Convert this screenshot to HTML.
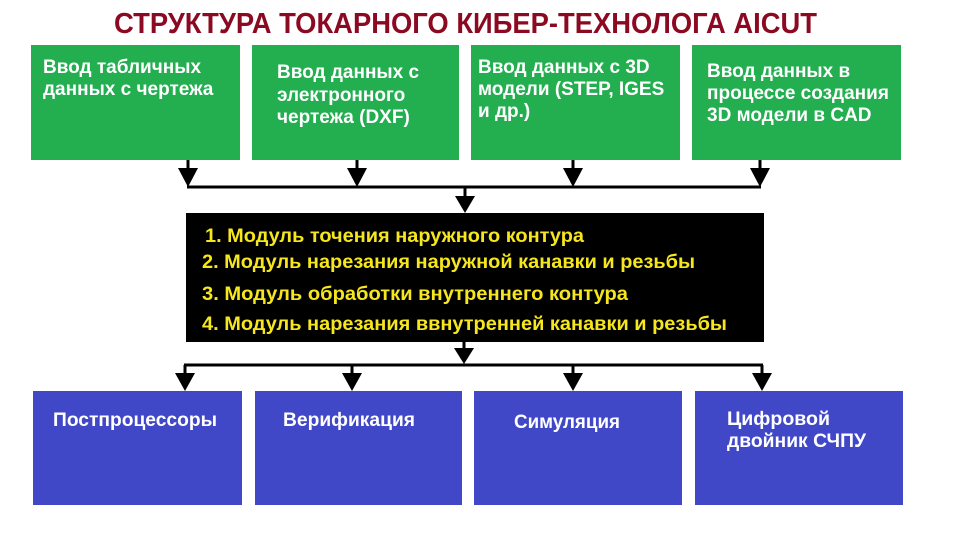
<!DOCTYPE html>
<html><head><meta charset="utf-8"><style>
html,body{margin:0;padding:0;background:#fff}
svg{display:block}
text{font-family:"Liberation Sans",Arial,sans-serif;font-weight:bold}
</style></head><body>
<svg width="957" height="539" viewBox="0 0 957 539" xmlns="http://www.w3.org/2000/svg">
<rect width="957" height="539" fill="#fff"/>
<text x="114" y="33" font-size="29" fill="#8b0a22" textLength="703" lengthAdjust="spacingAndGlyphs">СТРУКТУРА ТОКАРНОГО КИБЕР-ТЕХНОЛОГА AICUT</text>

<g fill="#23ae50">
<rect x="31" y="45" width="209" height="115"/>
<rect x="252" y="45" width="207" height="115"/>
<rect x="471" y="45" width="209" height="115"/>
<rect x="692" y="45" width="209" height="115"/>
</g>
<g fill="#fff" font-size="19">
<text x="43" y="73">Ввод табличных</text>
<text x="43" y="95">данных с чертежа</text>
<text x="277" y="78">Ввод данных с</text>
<text x="277" y="101">электронного</text>
<text x="277" y="123">чертежа (DXF)</text>
<text x="478" y="73">Ввод данных с 3D</text>
<text x="478" y="95">модели (STEP, IGES</text>
<text x="478" y="117">и др.)</text>
<text x="707" y="77">Ввод данных в</text>
<text x="707" y="99">процессе создания</text>
<text x="707" y="121">3D модели в CAD</text>
</g>

<g stroke="#000" stroke-width="3" fill="none">
<line x1="188" y1="160" x2="188" y2="172"/>
<line x1="357" y1="160" x2="357" y2="172"/>
<line x1="573" y1="160" x2="573" y2="172"/>
<line x1="760" y1="160" x2="760" y2="172"/>
<line x1="187" y1="187" x2="761" y2="187"/>
<line x1="465" y1="187" x2="465" y2="198"/>
<line x1="464" y1="342" x2="464" y2="350"/>
<line x1="184" y1="365" x2="763" y2="365"/>
<line x1="185" y1="365" x2="185" y2="375"/>
<line x1="352" y1="365" x2="352" y2="375"/>
<line x1="573" y1="365" x2="573" y2="375"/>
<line x1="762" y1="365" x2="762" y2="375"/>
</g>
<g fill="#000">
<polygon points="178,168 198,168 188,187"/>
<polygon points="347,168 367,168 357,187"/>
<polygon points="563,168 583,168 573,187"/>
<polygon points="750,168 770,168 760,187"/>
<polygon points="455,196 475,196 465,213"/>
<polygon points="454,348 474,348 464,364"/>
<polygon points="175,373 195,373 185,391"/>
<polygon points="342,373 362,373 352,391"/>
<polygon points="563,373 583,373 573,391"/>
<polygon points="752,373 772,373 762,391"/>
<rect x="186" y="213" width="578" height="129"/>
</g>
<g fill="#f5e61e" font-size="19">
<text x="205" y="242" textLength="379" lengthAdjust="spacingAndGlyphs">1. Модуль точения наружного контура</text>
<text x="202" y="268" textLength="493" lengthAdjust="spacingAndGlyphs">2. Модуль нарезания наружной канавки и резьбы</text>
<text x="202" y="300" textLength="426" lengthAdjust="spacingAndGlyphs">3. Модуль обработки внутреннего контура</text>
<text x="202" y="330" textLength="525" lengthAdjust="spacingAndGlyphs">4. Модуль нарезания ввнутренней канавки и резьбы</text>
</g>

<g fill="#4048c8">
<rect x="33" y="391" width="209" height="114"/>
<rect x="255" y="391" width="207" height="114"/>
<rect x="474" y="391" width="208" height="114"/>
<rect x="695" y="391" width="208" height="114"/>
</g>
<g fill="#fff" font-size="19">
<text x="53" y="426" textLength="164" lengthAdjust="spacingAndGlyphs">Постпроцессоры</text>
<text x="283" y="426" textLength="132" lengthAdjust="spacingAndGlyphs">Верификация</text>
<text x="514" y="428" textLength="106" lengthAdjust="spacingAndGlyphs">Симуляция</text>
<text x="727" y="425" textLength="103" lengthAdjust="spacingAndGlyphs">Цифровой</text>
<text x="727" y="447" textLength="139" lengthAdjust="spacingAndGlyphs">двойник СЧПУ</text>
</g>
</svg>
</body></html>
